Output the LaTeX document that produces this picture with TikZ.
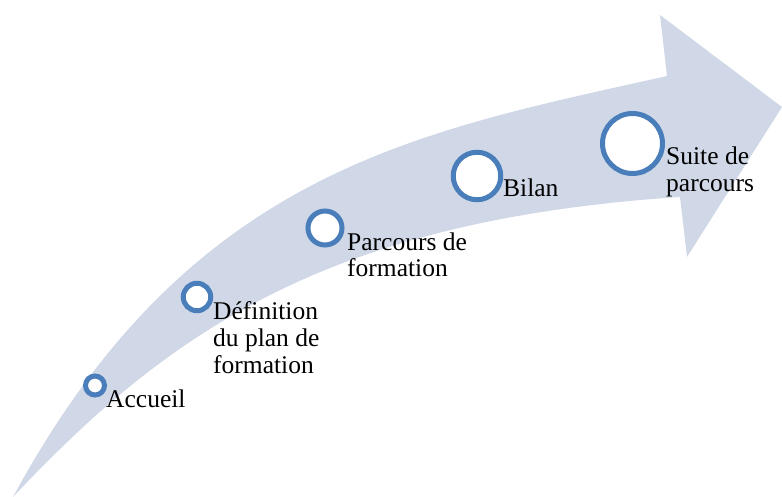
\documentclass[tikz,border=0pt]{standalone}
\usepackage{fontspec}
\setmainfont{Liberation Serif}
\definecolor{bandfill}{RGB}{208,216,232}
\definecolor{ringblue}{RGB}{74,126,187}
\tikzset{
  ring/.style={circle, draw=ringblue, line width=5pt, fill=white, inner sep=0pt},
  steplabel/.style={anchor=base west, inner sep=0pt, align=left,
    font=\rmfamily\fontsize{25.5}{26.7}\selectfont}
}
\begin{document}
\begin{tikzpicture}[x=1pt, y=-1pt]
  \useasboundingbox (0,0) rectangle (782,497);
  % curved arrow
  \coordinate (T) at (13,497);
  \coordinate (U) at (667,76);
  \coordinate (L) at (680,197);
  \coordinate (H1) at (660,15);
  \coordinate (H2) at (782,107);
  \coordinate (H3) at (687,257);
  \fill[bandfill] (T) .. controls (190,170) and (417,132) .. (U) -- (H1) -- (H2)
    -- (H3) -- (L) .. controls (330,220) and (170,330) .. (T) -- cycle;

  % steps
  \node[ring, minimum size=19pt] (accueil) at (95,385.5) {};
  \node[ring, minimum size=27.5pt] (definition) at (197,297) {};
  \node[ring, minimum size=34pt] (parcours) at (325,228) {};
  \node[ring, minimum size=47.5pt] (bilan) at (477,176) {};
  \node[ring, minimum size=60pt] (suite) at (632.5,143.5) {};

  % labels (base = last line)
  \node[steplabel] (accueil-txt) at (106,407) {Accueil};
  \node[steplabel] (definition-txt) at (213,373) {Définition\\du plan de\\formation};
  \node[steplabel] (parcours-txt) at (347,276.7) {Parcours de\\formation};
  \node[steplabel] (bilan-txt) at (503,197) {Bilan};
  \node[steplabel] (suite-txt) at (666,191.7) {Suite de\\parcours};
\end{tikzpicture}
\end{document}
